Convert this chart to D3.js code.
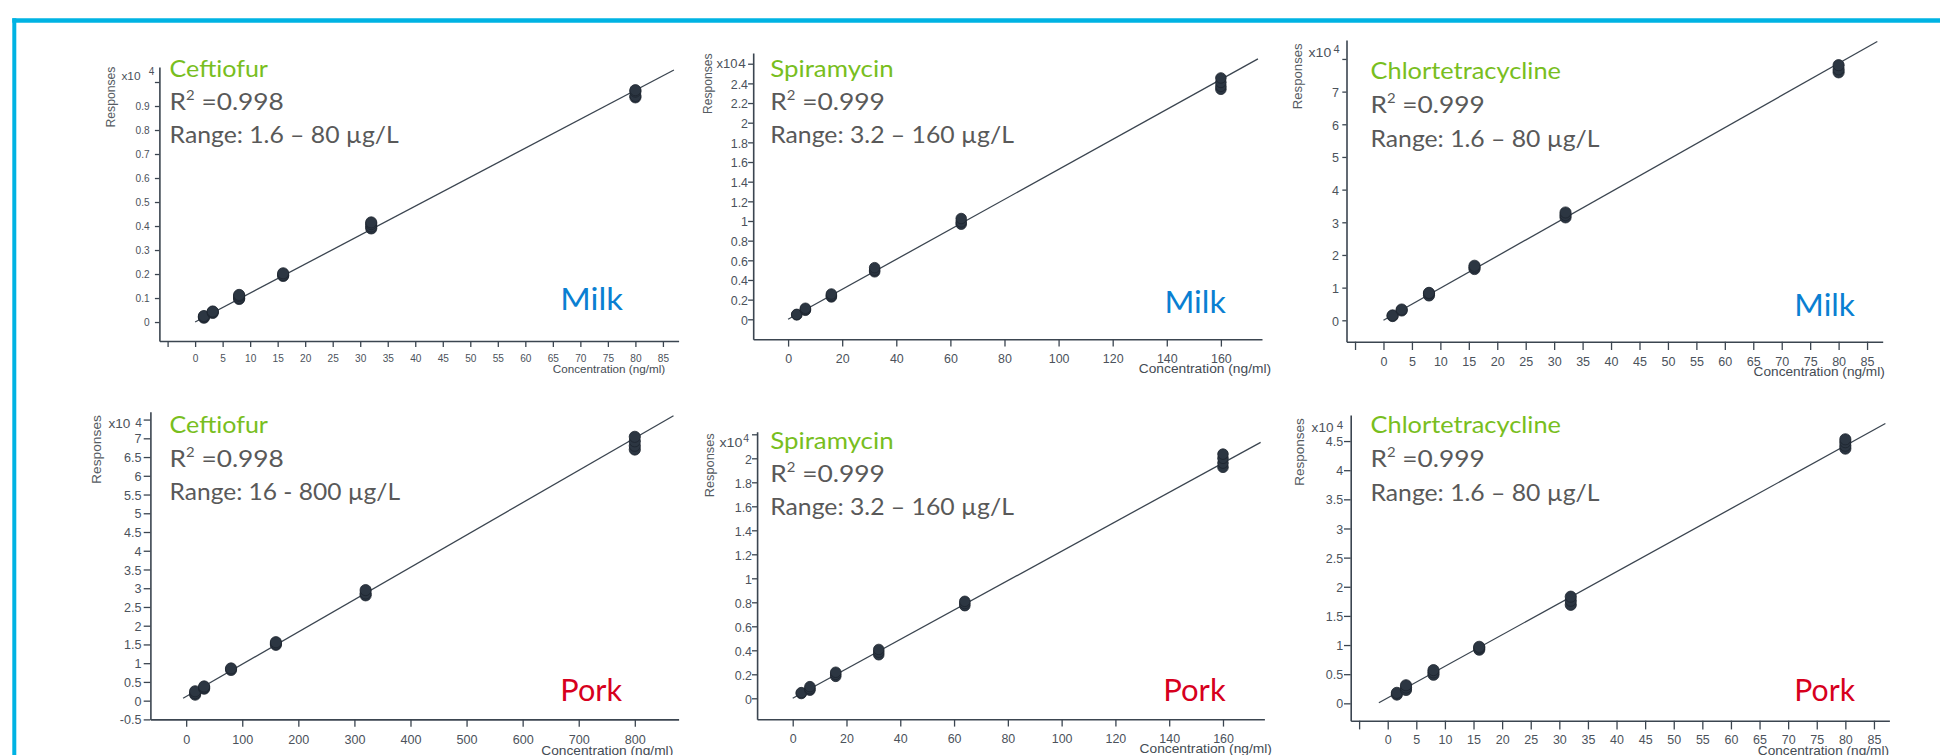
<!DOCTYPE html>
<html>
<head>
<meta charset="utf-8">
<script src="https://cdn.jsdelivr.net/npm/d3@7"></script>
<style>
  body { margin: 0; background: #fff; }
  svg { display: block; }
  text { white-space: pre; }
</style>
</head>
<body>
<div id="chart"></div>
<script>
// ---------- data (responses in units of x10^4) ----------
const analytes = ['Ceftiofur', 'Spiramycin', 'Chlortetracycline', 'Ceftiofur', 'Spiramycin', 'Chlortetracycline'];
const matrices = ['Milk', 'Milk', 'Milk', 'Pork', 'Pork', 'Pork'];
const r2Values = ['0.998', '0.999', '0.999', '0.998', '0.999', '0.999'];
const rangeLabels = [
    'Range: 1.6 – 80 µg/L', 'Range: 3.2 – 160 µg/L', 'Range: 1.6 – 80 µg/L',
    'Range: 16 - 800 µg/L', 'Range: 3.2 – 160 µg/L', 'Range: 1.6 – 80 µg/L'
];

const concLevels = [
    [1.6, 3.2, 8, 16, 32, 80],
    [3.2, 6.4, 16, 32, 64, 160],
    [1.6, 3.2, 8, 16, 32, 80],
    [16, 32, 80, 160, 320, 800],
    [3.2, 6.4, 16, 32, 64, 160],
    [1.6, 3.2, 8, 16, 32, 80]
];

// replicate injections at each level
const responses = [
    [[0.018, 0.022, 0.025], [0.038, 0.042, 0.044], [0.096, 0.1, 0.108, 0.113], [0.192, 0.196, 0.203], [0.39, 0.398, 0.408, 0.415], [0.936, 0.942, 0.96, 0.966]],
    [[0.045, 0.05], [0.092, 0.1, 0.112], [0.228, 0.24, 0.257], [0.483, 0.5, 0.525], [0.968, 0.99, 1.025], [2.34, 2.37, 2.41, 2.455]],
    [[0.13, 0.15], [0.3, 0.33], [0.76, 0.82, 0.84], [1.57, 1.62, 1.67], [3.15, 3.22, 3.3], [7.59, 7.68, 7.81]],
    [[0.16, 0.2, 0.25], [0.32, 0.35, 0.38], [0.82, 0.86], [1.49, 1.52, 1.56], [2.81, 2.86, 2.95], [6.7, 6.8, 6.92, 7.04]],
    [[0.04, 0.047], [0.068, 0.08, 0.097], [0.183, 0.2, 0.217], [0.363, 0.385, 0.407], [0.772, 0.79, 0.808], [1.925, 1.96, 2.0, 2.035]],
    [[0.15, 0.18], [0.23, 0.27, 0.31], [0.49, 0.53, 0.57], [0.92, 0.95, 0.97], [1.69, 1.76, 1.83], [4.37, 4.42, 4.48, 4.53]]
];

// linear fit
const fitSlope = [0.01207, 0.01525, 0.0983, 0.00862, 0.01226, 0.0541];
const fitIntercept = [0, 0, 0, 0.111, 0, 0.094];
const fitSpan = [[0, 87], [0, 173.7], [0, 86.8], [-5.5, 869], [0, 174], [-1.55, 87]];

// ticks
const xTicks85 = [-5, 0, 5, 10, 15, 20, 25, 30, 35, 40, 45, 50, 55, 60, 65, 70, 75, 80, 85];
const xTicks160 = [0, 20, 40, 60, 80, 100, 120, 140, 160];
const xTicks800 = [0, 100, 200, 300, 400, 500, 600, 700, 800];
const xTickVals = [xTicks85, xTicks160, xTicks85, xTicks800, xTicks160, xTicks85];
const xUnlabeled = [-5, null, -5, null, null, -5];

const yTickVals = [
    [0, 0.1, 0.2, 0.3, 0.4, 0.5, 0.6, 0.7, 0.8, 0.9, 1.0],
    [0, 0.2, 0.4, 0.6, 0.8, 1, 1.2, 1.4, 1.6, 1.8, 2, 2.2, 2.4, 2.6],
    [0, 1, 2, 3, 4, 5, 6, 7, 8],
    [-0.5, 0, 0.5, 1, 1.5, 2, 2.5, 3, 3.5, 4, 4.5, 5, 5.5, 6, 6.5, 7, 7.5],
    [0, 0.2, 0.4, 0.6, 0.8, 1, 1.2, 1.4, 1.6, 1.8, 2, 2.2],
    [0, 0.5, 1, 1.5, 2, 2.5, 3, 3.5, 4, 4.5]
];
const yUnlabeled = [1.0, 2.6, 8, 7.5, 2.2, null];

// ---------- layout ----------
const panelBoxes = [
    { left: 159.4, right: 678.6, top: 67, bottom: 341, xDom: [-6.49, 87.85], yDom: [-0.079, 1.0625] },
    { left: 753.2, right: 1262, top: 53, bottom: 339.3, xDom: [-12.9, 175.2], yDom: [-0.2035, 2.709] },
    { left: 1346.5, right: 1882.7, top: 40, bottom: 341.7, xDom: [-6.5, 87.75], yDom: [-0.655, 8.58] },
    { left: 150.4, right: 678.6, top: 411.7, bottom: 719.4, xDom: [-63.8, 878.1], yDom: [-0.5, 7.71] },
    { left: 757.1, right: 1264.4, top: 431.7, bottom: 719.3, xDom: [-13.24, 175.4], yDom: [-0.175, 2.2217] },
    { left: 1350.7, right: 1889.4, top: 415, bottom: 720.7, xDom: [-6.47, 87.7], yDom: [-0.298, 4.947] }
];

const axisStyles = [
    { font: 11, sx: 0.92, yTick: 4.5, yGap: 9.8, xTick: 6, xBase: 21, r: 5.6 },
    { font: 13.5, sx: 0.92, yTick: 5.1, yGap: 5.2, xTick: 7.3, xBase: 23.4, r: 5.3 },
    { font: 13.5, sx: 0.93, yTick: 4.2, yGap: 7.6, xTick: 8.3, xBase: 24, r: 5.6 },
    { font: 13, sx: 0.97, yTick: 6.7, yGap: 8.9, xTick: 7.3, xBase: 25, r: 5.6 },
    { font: 13.5, sx: 0.92, yTick: 5.1, yGap: 5.1, xTick: 7.3, xBase: 23.4, r: 5.3 },
    { font: 13, sx: 0.96, yTick: 6.7, yGap: 7.6, xTick: 8.7, xBase: 23.6, r: 5.6 }
];

// title block: x, baselines of the three lines, widths; matrix label
const labelPos = [
    { x: 169.6, b: [77.3, 110, 143.3], w: [99.1, 114.3, 229.4], mx: 560.3, my: 310, mw: 63.5 },
    { x: 770.2, b: [76.7, 110, 143.3], w: [123.4, 114.7, 244], mx: 1164.4, my: 312.7, mw: 62.2 },
    { x: 1370.5, b: [79.3, 112.7, 146.7], w: [190.6, 114.4, 229.3], mx: 1794.3, my: 316, mw: 61.5 },
    { x: 169.6, b: [433.3, 467.3, 500], w: [99.1, 114.3, 230.8], mx: 560.3, my: 700.7, mw: 62.5 },
    { x: 770.2, b: [449, 481.7, 515], w: [123.4, 114.7, 244], mx: 1163.2, my: 700.7, mw: 63.3 },
    { x: 1370.5, b: [433.3, 467.3, 500.7], w: [190.6, 114.4, 229.3], mx: 1794.3, my: 700.7, mw: 61.5 }
];

// axis titles and the x10^4 multiplier
const axisTitlePos = [
    { rx: 114.5, ry: 97, rw: 61, cx: 665.2, cy: 373, cw: 112.5, cs: 11 },
    { rx: 711.5, ry: 83.7, rw: 60.7, cx: 1271.1, cy: 373, cw: 132.4, cs: 12 },
    { rx: 1302, ry: 76.3, rw: 66, cx: 1884.8, cy: 376, cw: 131.3, cs: 12 },
    { rx: 101, ry: 449.5, rw: 69, cx: 673.2, cy: 755, cw: 132.1, cs: 12 },
    { rx: 714, ry: 465.3, rw: 64, cx: 1271.9, cy: 752.5, cw: 132.4, cs: 12 },
    { rx: 1304, ry: 452, rw: 67.7, cx: 1889, cy: 755, cw: 131.3, cs: 12 }
];
const expPos = [
    { x: 121.4, y: 80, w: 19.2, sx: 148.7, sy: 75, sf: 10 },
    { x: 716.4, y: 68.3, w: 21, sx: 738.3, sy: 68.3, sf: 13.5 },
    { x: 1308.6, y: 56.7, w: 22.7, sx: 1333.5, sy: 53, sf: 11 },
    { x: 108.5, y: 428.3, w: 21.9, sx: 135.3, sy: 426.7, sf: 12 },
    { x: 719.5, y: 446.7, w: 23, sx: 743.3, sy: 441.7, sf: 10.5 },
    { x: 1311.6, y: 431.7, w: 21.9, sx: 1336.8, sy: 429.3, sf: 11.5 }
];

const FRAME = '#00b3e3';
const AXIS = '#3b4550';
const TICK = '#4b525b';
const DOT = '#2c3642';
const GREEN = '#78be20';
const GRAY = '#595959';
const matrixColor = { Milk: '#0a7fd2', Pork: '#d7001d' };
const TITLE_FONT = "Lato, 'Open Sans', sans-serif";
const SMALL_FONT = "'Liberation Sans', Arial, sans-serif";

const svg = d3.select('#chart')
    .append('svg')
    .attr('width', 1940)
    .attr('height', 755);

// frame
svg.append('line')
    .attr('x1', 12.3).attr('x2', 1940).attr('y1', 20.5).attr('y2', 20.5)
    .attr('stroke', FRAME).attr('stroke-width', 4.5);
svg.append('line')
    .attr('x1', 14.3).attr('y1', 18.3).attr('x2', 14.3).attr('y2', 755)
    .attr('stroke', FRAME).attr('stroke-width', 4);

// text placed at (x,y), squeezed horizontally to width w
function fittedText(parent, x, y, w, opts = {}) {
    const g = parent.append('g')
        .attr('transform', `translate(${x},${y})` + (opts.rotate ? ` rotate(${opts.rotate})` : ''));
    const t = g.append('text')
        .attr('text-anchor', opts.anchor || 'start')
        .style('font-family', opts.family || TITLE_FONT)
        .style('font-size', (opts.size || 23) + 'px')
        .attr('fill', opts.fill || GRAY);
    if (opts.text !== undefined) t.text(opts.text);
    if (opts.build) opts.build(t);
    const bw = t.node().getBBox().width;
    if (bw > 0 && w) t.attr('transform', `scale(${w / bw},1)`);
    return t;
}

analytes.forEach((name, i) => {
    const b = panelBoxes[i];
    const st = axisStyles[i];
    const x = d3.scaleLinear().domain(b.xDom).range([b.left, b.right]);
    const y = d3.scaleLinear().domain(b.yDom).range([b.bottom, b.top]);
    const g = svg.append('g').attr('class', 'panel');

    // x axis
    const xa = g.append('g')
        .attr('transform', `translate(0,${b.bottom})`)
        .attr('color', AXIS)
        .call(d3.axisBottom(x)
            .tickValues(xTickVals[i])
            .tickSize(st.xTick)
            .tickSizeOuter(0)
            .tickFormat(d => d === xUnlabeled[i] ? '' : String(d)));
    xa.select('.domain').attr('stroke-width', 1.6);
    xa.selectAll('.tick line').attr('stroke-width', 1.3);
    xa.selectAll('.tick text')
        .attr('y', st.xBase).attr('dy', 0)
        .attr('fill', TICK)
        .style('font-family', SMALL_FONT)
        .style('font-size', st.font + 'px')
        .attr('transform', `scale(${st.sx},1)`);

    // y axis
    const ya = g.append('g')
        .attr('transform', `translate(${b.left},0)`)
        .attr('color', AXIS)
        .call(d3.axisLeft(y)
            .tickValues(yTickVals[i])
            .tickSize(st.yTick)
            .tickSizeOuter(0)
            .tickFormat(d => d === yUnlabeled[i] ? '' : String(d)));
    ya.select('.domain').attr('stroke-width', 1.6);
    ya.selectAll('.tick line').attr('stroke-width', 1.3);
    ya.selectAll('.tick text')
        .attr('x', -st.yGap / st.sx).attr('dy', '0.35em')
        .attr('fill', TICK)
        .style('font-family', SMALL_FONT)
        .style('font-size', st.font + 'px')
        .attr('transform', `scale(${st.sx},1)`);

    // fitted calibration line
    const line = d3.line().x(d => x(d[0])).y(d => y(d[1]));
    g.append('path')
        .datum(fitSpan[i].map(c => [c, fitIntercept[i] + fitSlope[i] * c]))
        .attr('d', line)
        .attr('fill', 'none')
        .attr('stroke', AXIS)
        .attr('stroke-width', 1.3);

    // replicate points
    const pts = concLevels[i].flatMap((c, k) => responses[i][k].map(v => ({ c, v })));
    g.selectAll('circle')
        .data(pts)
        .join('circle')
        .attr('cx', d => x(d.c))
        .attr('cy', d => y(d.v))
        .attr('r', st.r)
        .attr('fill', DOT)
        .attr('stroke', '#1d252e')
        .attr('stroke-width', 0.8);

    // axis titles
    const at = axisTitlePos[i];
    fittedText(g, at.rx, at.ry, at.rw, {
        rotate: -90, anchor: 'middle', family: SMALL_FONT, size: 12, fill: '#555b62', text: 'Responses'
    });
    fittedText(g, at.cx, at.cy, at.cw, {
        anchor: 'end', family: SMALL_FONT, size: at.cs, fill: '#444b53', text: 'Concentration (ng/ml)'
    });

    // x10^4 multiplier
    const ep = expPos[i];
    fittedText(g, ep.x, ep.y, ep.w, { family: SMALL_FONT, size: st.font, fill: TICK, text: 'x10' });
    g.append('text')
        .attr('x', ep.sx).attr('y', ep.sy)
        .style('font-family', SMALL_FONT)
        .style('font-size', ep.sf + 'px')
        .attr('fill', TICK)
        .text('4');

    // annotation block
    const lp = labelPos[i];
    fittedText(g, lp.x, lp.b[0], lp.w[0], { fill: GREEN, text: name });
    fittedText(g, lp.x, lp.b[1], lp.w[1], {
        build: t => {
            t.append('tspan').text('R');
            t.append('tspan').attr('dy', -10).style('font-size', '13px').text('2');
            t.append('tspan').attr('dy', 10).text(' =' + r2Values[i]);
        }
    });
    fittedText(g, lp.x, lp.b[2], lp.w[2], { text: rangeLabels[i] });
    fittedText(g, lp.mx, lp.my, lp.mw, { size: 30, fill: matrixColor[matrices[i]], text: matrices[i] });
});
</script>
</body>
</html>
